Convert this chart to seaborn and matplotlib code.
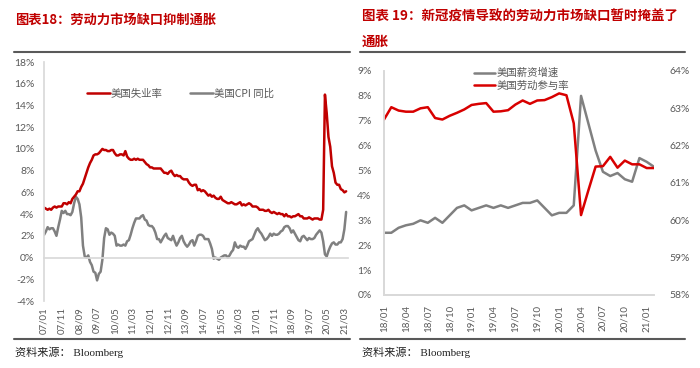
import numpy as np
import pandas as pd
import matplotlib
matplotlib.use('Agg')
import matplotlib.pyplot as plt
import seaborn as sns
from matplotlib.lines import Line2D

sns.set_theme(style='white')
plt.rcParams['font.family'] = ['Lato', 'Noto Sans CJK SC', 'DejaVu Sans']

# ---- chart 18 data: 2007/01 - 2021/04, monthly (%)
unemp = [4.6, 4.5, 4.4, 4.5, 4.4, 4.6, 4.7, 4.6, 4.7, 4.7, 4.7, 5.0,
         5.0, 4.9, 5.1, 5.0, 5.4, 5.6, 5.8, 6.1, 6.1, 6.5, 6.8, 7.3,
         7.8, 8.3, 8.7, 9.0, 9.4, 9.5, 9.5, 9.6, 9.8, 10.0, 9.9, 9.9,
         9.8, 9.8, 9.9, 9.9, 9.6, 9.4, 9.4, 9.5, 9.5, 9.4, 9.8, 9.3,
         9.1, 9.0, 9.0, 9.1, 9.0, 9.1, 9.0, 9.0, 9.0, 8.8, 8.6, 8.5,
         8.3, 8.3, 8.2, 8.2, 8.2, 8.2, 8.2, 8.0, 7.8, 7.8, 7.7, 7.9,
         8.0, 7.7, 7.5, 7.6, 7.5, 7.5, 7.3, 7.2, 7.2, 7.2, 6.9, 6.7,
         6.6, 6.7, 6.7, 6.2, 6.3, 6.1, 6.2, 6.1, 5.9, 5.7, 5.8, 5.6,
         5.7, 5.5, 5.4, 5.4, 5.6, 5.3, 5.2, 5.1, 5.0, 5.0, 5.1, 5.0,
         4.9, 4.9, 5.0, 5.1, 4.8, 4.9, 4.8, 4.9, 5.0, 4.9, 4.7, 4.7,
         4.7, 4.6, 4.4, 4.4, 4.4, 4.3, 4.3, 4.4, 4.2, 4.1, 4.2, 4.1,
         4.0, 4.1, 4.0, 4.0, 3.8, 4.0, 3.8, 3.8, 3.7, 3.8, 3.8, 3.9,
         4.0, 3.8, 3.8, 3.6, 3.6, 3.6, 3.7, 3.6, 3.5, 3.6, 3.6, 3.6,
         3.5, 3.5, 4.4, 15.0, 13.3, 11.1, 10.2, 8.4, 7.8, 6.9, 6.7, 6.7,
         6.3, 6.2, 6.0, 6.1]
cpi = [2.1, 2.4, 2.8, 2.6, 2.7, 2.7, 2.4, 2.0, 2.8, 3.5, 4.3, 4.1,
       4.3, 4.0, 4.0, 3.9, 4.2, 5.0, 5.6, 5.4, 4.9, 3.7, 1.1, 0.1,
       0.0, 0.2, -0.4, -0.7, -1.3, -1.4, -2.1, -1.5, -1.3, -0.2, 1.8, 2.7,
       2.6, 2.1, 2.3, 2.2, 2.0, 1.1, 1.2, 1.1, 1.1, 1.2, 1.1, 1.5,
       1.6, 2.1, 2.7, 3.2, 3.6, 3.6, 3.6, 3.8, 3.9, 3.5, 3.4, 3.0,
       2.9, 2.9, 2.7, 2.3, 1.7, 1.7, 1.4, 1.7, 2.0, 2.2, 1.8, 1.7,
       1.6, 2.0, 1.5, 1.1, 1.4, 1.8, 2.0, 1.5, 1.2, 1.0, 1.2, 1.5,
       1.6, 1.1, 1.5, 2.0, 2.1, 2.1, 2.0, 1.7, 1.7, 1.7, 1.3, 0.8,
       -0.1, 0.0, -0.1, -0.2, 0.0, 0.1, 0.2, 0.2, 0.0, 0.2, 0.5, 0.7,
       1.4, 1.0, 0.9, 1.1, 1.0, 1.0, 0.8, 1.1, 1.5, 1.6, 1.7, 2.1,
       2.5, 2.7, 2.4, 2.2, 1.9, 1.6, 1.7, 1.9, 2.2, 2.0, 2.2, 2.1,
       2.1, 2.2, 2.4, 2.5, 2.8, 2.9, 2.9, 2.7, 2.3, 2.5, 2.2, 1.9,
       1.6, 1.5, 1.9, 2.0, 1.8, 1.6, 1.8, 1.7, 1.7, 1.8, 2.1, 2.3,
       2.5, 2.3, 1.5, 0.3, 0.1, 0.6, 1.0, 1.3, 1.4, 1.2, 1.2, 1.4,
       1.4, 1.7, 2.6, 4.2]
ticks18 = ['07/01', '07/11', '08/09', '09/07', '10/05', '11/03', '12/01', '12/11', '13/09',
           '14/07', '15/05', '16/03', '17/01', '17/11', '18/09', '19/07', '20/05', '21/03']

# ---- chart 19 data: 2018/01 - 2021/02, monthly (%)
wage = [2.5, 2.5, 2.7, 2.8, 2.86, 3.0, 2.9, 3.1, 2.9, 3.2, 3.5, 3.6,
        3.4, 3.5, 3.6, 3.5, 3.6, 3.5, 3.6, 3.7, 3.7, 3.8, 3.5, 3.2,
        3.3, 3.3, 3.6, 8.0, 6.9, 5.8, 4.95, 4.78, 4.9, 4.65, 4.55, 5.5,
        5.35, 5.15]
lfpr = [62.7, 63.03, 62.94, 62.91, 62.91, 63.0, 63.03, 62.74, 62.7, 62.8, 62.88, 62.97,
        63.09, 63.12, 63.14, 62.91, 62.92, 62.95, 63.1, 63.21, 63.12, 63.21, 63.22, 63.3,
        63.4, 63.35, 62.6, 60.14, 60.8, 61.44, 61.45, 61.7, 61.41, 61.6, 61.5, 61.5,
        61.4, 61.4]
ticks19 = ['18/01', '18/04', '18/07', '18/10', '19/01', '19/04', '19/07', '19/10',
           '20/01', '20/04', '20/07', '20/10', '21/01']

RED = '#C00000'
RED2 = '#D80000'
GREY = '#808080'
TXT = '#595959'
AX = '#D9D9D9'
cjk_serif = ['Liberation Serif', 'Noto Sans CJK SC']

df18 = pd.DataFrame({'m': np.arange(len(unemp)), 'unemp': unemp, 'cpi': cpi})
df19 = pd.DataFrame({'m': np.arange(len(wage)), 'wage': wage, 'lfpr': lfpr})

fig = plt.figure(figsize=(7, 3.68), dpi=100)

# ---------- left chart
ax1 = fig.add_axes([0.063, 0.182, 0.434, 0.6495])
sns.lineplot(data=df18, x='m', y='cpi', ax=ax1, color=GREY, lw=1.8)
sns.lineplot(data=df18, x='m', y='unemp', ax=ax1, color=RED, lw=1.8)
# horizontal axis crosses at 0 (set before the tick labels, it resets them)
for s in ['top', 'right']:
    ax1.spines[s].set_visible(False)
ax1.spines['left'].set_color(AX)
ax1.spines['bottom'].set_color(AX)
ax1.spines['bottom'].set_position(('data', 0))
ax1.set_xlim(0, 172)
ax1.set_ylim(-4, 18)
ax1.set_yticks(range(-4, 19, 2))
ax1.set_yticklabels([f'{v}%' for v in range(-4, 19, 2)])
ax1.set_xticks(range(0, 171, 10))
ax1.set_xticklabels(ticks18, rotation=90)
ax1.tick_params(axis='y', length=0, pad=7, labelsize=7.5, labelcolor=TXT)
ax1.tick_params(axis='x', length=3, width=0.8, color=AX, direction='inout',
                pad=34, labelsize=7, labelcolor=TXT)
ax1.set_xlabel('')
ax1.set_ylabel('')
h1 = [Line2D([], [], color=RED, lw=1.8), Line2D([], [], color=GREY, lw=1.8)]
ax1.legend(h1, ['美国失业率', '美国CPI 同比'], loc='center left', bbox_to_anchor=(0.11, 0.866),
           ncol=2, frameon=False, handlelength=2.2, columnspacing=2.6, handletextpad=0.1,
           prop={'family': ['Noto Sans CJK SC', 'DejaVu Sans'], 'size': 7.5}, labelcolor=TXT)

# ---------- right chart
ax2 = fig.add_axes([0.5486, 0.1984, 0.3857, 0.6087])
ax3 = ax2.twinx()
sns.lineplot(data=df19, x='m', y='wage', ax=ax2, color=GREY, lw=1.8)
sns.lineplot(data=df19, x='m', y='lfpr', ax=ax3, color=RED2, lw=1.8)
ax2.set_xlim(0, 37)
ax2.set_ylim(0, 9)
ax3.set_ylim(58, 64)
ax2.set_yticks(range(0, 10))
ax2.set_yticklabels([f'{v}%' for v in range(0, 10)])
ax3.set_yticks(range(58, 65))
ax3.set_yticklabels([f'{v}%' for v in range(58, 65)])
ax2.set_xticks(range(0, 37, 3))
ax2.set_xticklabels(ticks19, rotation=90)
for a in (ax2, ax3):
    for s in ['top', 'right']:
        a.spines[s].set_visible(False)
    a.spines['left'].set_color(AX)
    a.spines['bottom'].set_color(AX)
    a.set_xlabel('')
    a.set_ylabel('')
ax2.tick_params(axis='y', length=0, pad=9, labelsize=7.5, labelcolor=TXT)
ax3.tick_params(axis='y', length=0, pad=11, labelsize=7.5, labelcolor=TXT)
ax2.tick_params(axis='x', length=3, width=0.8, color=AX, direction='out',
                pad=4, labelsize=7, labelcolor=TXT)
h2 = [Line2D([], [], color=GREY, lw=1.8), Line2D([], [], color=RED2, lw=1.8)]
ax3.legend(h2, ['美国薪资增速', '美国劳动参与率'], loc='center left', bbox_to_anchor=(0.30, 0.962),
           frameon=False, handlelength=2.0, handletextpad=0.1, labelspacing=0.25,
           prop={'family': ['Noto Sans CJK SC', 'DejaVu Sans'], 'size': 7.5}, labelcolor=TXT)

# ---------- titles, rules and sources
fig.text(15 / 700, 1 - 20 / 368, '图表18：劳动力市场缺口抑制通胀', color=RED,
         fontsize=9.5, fontweight='bold', va='center', family=['Noto Sans CJK SC'])
fig.text(362 / 700, 1 - 17 / 368, '图表 19：新冠疫情导致的劳动力市场缺口暂时掩盖了', color=RED,
         fontsize=9.7, fontweight='bold', va='center', family=['Noto Sans CJK SC'])
fig.text(362 / 700, 1 - 42 / 368, '通胀', color=RED,
         fontsize=9.7, fontweight='bold', va='center', family=['Noto Sans CJK SC'])

for x0, x1 in [(14, 350), (360, 685)]:
    for y in (52, 339):
        fig.add_artist(Line2D([x0 / 700, x1 / 700], [1 - y / 368, 1 - y / 368],
                              transform=fig.transFigure, color='#595959', lw=1.5))

fig.text(15 / 700, 1 - 352 / 368, '资料来源： Bloomberg', color='#222222', fontsize=8,
         va='center', family=cjk_serif)
fig.text(362 / 700, 1 - 352 / 368, '资料来源： Bloomberg', color='#222222', fontsize=8,
         va='center', family=cjk_serif)

fig.savefig('out.png', dpi=100)
